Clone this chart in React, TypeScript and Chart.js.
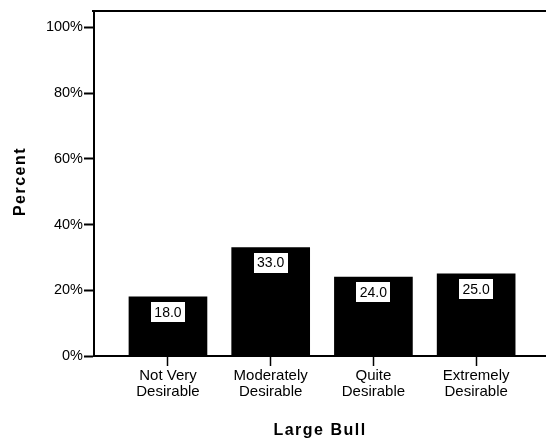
import React, { useEffect, useRef } from "react";
import { Chart, registerables } from "chart.js";

Chart.register(...registerables);

const categories: string[][] = [
  ["Not Very", "Desirable"],
  ["Moderately", "Desirable"],
  ["Quite", "Desirable"],
  ["Extremely", "Desirable"],
];
const percents: number[] = [18.0, 33.0, 24.0, 25.0];
const yTickValues: number[] = [0, 20, 40, 60, 80, 100];
const xTitle = "Large Bull";
const yTitle = "Percent";

const FONT = '"Liberation Sans", Arial, sans-serif';

export default function App() {
  const ref = useRef<HTMLCanvasElement>(null);

  useEffect(() => {
    if (!ref.current) return;

    const decorPlugin = {
      id: "decor",
      afterDatasetsDraw(chart: any) {
        const ctx = chart.ctx;
        const meta = chart.getDatasetMeta(0);
        ctx.save();
        ctx.font = `14px ${FONT}`;
        meta.data.forEach((bar: any, i: number) => {
          const text = percents[i].toFixed(1);
          const w = Math.round(ctx.measureText(text).width + 7);
          const h = 20;
          const cy = bar.y + 15;
          ctx.fillStyle = "#ffffff";
          ctx.fillRect(Math.round(bar.x - w / 2), Math.round(cy - h / 2), w, h);
          ctx.fillStyle = "#000000";
          ctx.textAlign = "center";
          ctx.textBaseline = "middle";
          ctx.fillText(text, bar.x, cy + 1);
        });
        ctx.restore();
      },
      afterDraw(chart: any) {
        const { ctx, chartArea } = chart;
        ctx.save();
        ctx.strokeStyle = "#000000";
        ctx.lineWidth = 2;
        ctx.beginPath();
        ctx.moveTo(chartArea.left - 2, chartArea.top);
        ctx.lineTo(chart.width, chartArea.top);
        ctx.stroke();

        ctx.fillStyle = "#000000";
        ctx.font = `bold 16px ${FONT}`;
        (ctx as any).letterSpacing = "1.5px";
        ctx.textAlign = "center";
        ctx.textBaseline = "alphabetic";
        ctx.fillText(xTitle, (chartArea.left + chartArea.right) / 2, 435);
        ctx.translate(25, (chartArea.top + chartArea.bottom) / 2 - 2);
        ctx.rotate(-Math.PI / 2);
        ctx.fillText(yTitle, 0, 0);
        ctx.restore();
      },
    };

    const chart = new Chart(ref.current, {
      type: "bar",
      data: {
        datasets: [
          {
            label: yTitle,
            data: percents.map((v, i) => ({ x: i + 1, y: v })),
            backgroundColor: "#000000",
            borderWidth: 0,
            barThickness: 78,
          } as any,
        ],
      },
      options: {
        responsive: false,
        animation: false,
        devicePixelRatio: 1,
        layout: { padding: { top: 11, left: 0, right: 0, bottom: 0 } },
        plugins: {
          legend: { display: false },
          tooltip: { enabled: false },
        },
        scales: {
          x: {
            type: "linear",
            min: 0.28,
            max: 4.68,
            offset: false,
            afterBuildTicks: (s: any) => {
              s.ticks = categories.map((_, i) => ({ value: i + 1 }));
            },
            afterFit: (s: any) => {
              s.height = 83;
            },
            ticks: {
              autoSkip: false,
              maxRotation: 0,
              minRotation: 0,
              padding: 2,
              color: "#000000",
              font: { family: FONT, size: 15, lineHeight: 1.08 },
              callback: (v: any) => categories[Math.round(v) - 1] ?? "",
            },
            grid: {
              offset: false,
              drawOnChartArea: false,
              drawTicks: true,
              tickLength: 10,
              tickWidth: 1.5,
              color: "#000000",
            },
            border: { display: true, color: "#000000", width: 2 },
          } as any,
          y: {
            type: "linear",
            min: 0,
            max: 105,
            afterBuildTicks: (s: any) => {
              s.ticks = yTickValues.map((v) => ({ value: v }));
            },
            afterFit: (s: any) => {
              s.width = 94;
            },
            ticks: {
              padding: 1,
              color: "#000000",
              font: { family: FONT, size: 14.5 },
              callback: (v: any) => `${v}%`,
            },
            grid: {
              drawOnChartArea: false,
              drawTicks: true,
              tickLength: 10,
              tickWidth: 2,
              color: "#000000",
            },
            border: { display: true, color: "#000000", width: 2 },
          } as any,
        },
      },
      plugins: [decorPlugin],
    });

    return () => chart.destroy();
  }, []);

  return (
    <div style={{ position: "absolute", left: 0, top: 0, width: 546, height: 439, background: "#ffffff" }}>
      <canvas ref={ref} width={546} height={439} style={{ display: "block" }} />
    </div>
  );
}
